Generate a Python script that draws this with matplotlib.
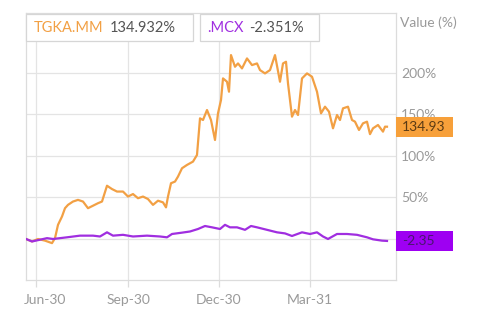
import matplotlib
matplotlib.use('Agg')
import matplotlib.pyplot as plt
import matplotlib.transforms as mtransforms
from matplotlib.patches import Rectangle
import pandas as pd

plt.rcParams['font.family'] = ['Lato', 'DejaVu Sans']

base_date = pd.Timestamp('2020-06-30')

# day offsets from 2020-06-30 and % change values
tgka_days = [-10, -4, 2, 9, 16, 19, 22, 26, 29, 32, 37, 42, 47, 52, 57, 62, 66, 71, 76, 81,
             87, 92, 97, 102, 107, 112, 117, 122, 127, 130, 132, 135, 139, 142, 146, 151, 157,
             161, 164, 167, 171, 175, 179, 182, 185, 187, 191, 193, 195, 199, 202, 206, 211,
             216, 221, 224, 229, 234, 239, 244, 247, 250, 252, 256, 259, 262, 266, 271, 276,
             281, 285, 289, 293, 297, 301, 304, 307, 312, 316, 319, 323, 327, 331, 334, 337,
             342, 347, 349, 351]
tgka_vals = [0, -3, 0, -2, -5, 1, 17, 27, 37, 41, 45, 47, 45, 37, 40, 43, 45, 64, 60, 57,
             57, 51, 54, 49, 51, 48, 41, 46, 44, 38, 51, 67, 69, 75, 85, 89, 93,
             101, 145, 143, 155, 143, 119, 151, 167, 193, 189, 177, 221, 207, 211, 205, 217,
             209, 211, 203, 199, 203, 221, 189, 211, 213, 187, 147, 155, 149, 193, 199, 195,
             177, 151, 159, 153, 133, 149, 143, 157, 159, 143, 141, 131, 139, 141, 126, 133,
             137, 129, 135, 134.93]

mcx_days = [-10, -4, 11, 17, 31, 44, 57, 64, 71, 77, 87, 97, 111, 124, 131, 136, 146, 154,
            162, 169, 176, 184, 189, 194, 201, 209, 215, 221, 231, 241, 249, 256, 266, 274,
            281, 287, 292, 301, 311, 321, 331, 337, 346, 351]
mcx_vals = [0, -3, 1, 0, 2, 4, 4, 3, 8, 4, 5, 3, 4, 3, 2, 6, 7.6, 9,
            12, 15.6, 14, 12, 17, 14, 14, 11, 15.6, 14, 11, 8, 6.7, 3.6, 8, 6,
            8, 3, 0, 6, 6, 5, 2, -0.4, -2, -2.35]

tick_dates = ['2020-06-30', '2020-09-30', '2020-12-30', '2021-03-31']
tick_labels = ['Jun-30', 'Sep-30', 'Dec-30', 'Mar-31']
y_ticks = [0, 50, 100, 150, 200]
y_labels = ['', '50%', '100%', '150%', '200%']  # 0% is hidden behind the MCX value box

tgka_name, tgka_total, tgka_last = 'TGKA.MM', '134.932%', '134.93'
mcx_name, mcx_total, mcx_last = '.MCX', '-2.351%', '-2.35'

ORANGE = '#F2A044'
ORANGE_BOX = '#F7A03A'
PURPLE = '#A02EE0'
PURPLE_BOX = '#9E00F2'
GRID = '#e4e4e4'
TXT = '#9a9a9a'

W, H = 480, 317
fig = plt.figure(figsize=(W / 100, H / 100), dpi=100)
ax = fig.add_axes([26 / W, 1 - 280 / H, 370 / W, 267 / H])

tg_dates = [base_date + pd.Timedelta(days=d) for d in tgka_days]
mc_dates = [base_date + pd.Timedelta(days=d) for d in mcx_days]

ax.plot(tg_dates, tgka_vals, color=ORANGE, lw=1.6, zorder=3)
ax.plot(mc_dates, mcx_vals, color=PURPLE, lw=1.6, zorder=3)

ax.set_xlim(base_date - pd.Timedelta(days=10), base_date + pd.Timedelta(days=360))
ax.set_ylim(-49.3, 271.6)

ax.set_xticks([pd.Timestamp(d) for d in tick_dates])
ax.set_xticklabels(tick_labels)
ax.set_yticks(y_ticks)
ax.set_yticklabels(y_labels)
ax.yaxis.tick_right()

ax.grid(True, color=GRID, lw=0.9)
ax.set_axisbelow(True)
for s in ax.spines.values():
    s.set_color('#dcdcdc')
    s.set_linewidth(0.9)

ax.tick_params(axis='y', length=0, pad=3.5, labelsize=10, labelcolor=TXT)
ax.tick_params(axis='x', length=5, width=0.9, color='#dcdcdc', pad=5,
               labelsize=10, labelcolor=TXT)

# first x label is kept inside the frame
lab0 = ax.get_xticklabels()[0]
lab0.set_horizontalalignment('left')
lab0.set_transform(lab0.get_transform() +
                   mtransforms.ScaledTranslation(-12 / 100, 0, fig.dpi_scale_trans))


def fx(px):
    return px / W


def fy(py):
    return 1 - py / H


# legend boxes
for (x0, x1) in [(26, 193), (200, 319)]:
    fig.patches.append(Rectangle((fx(x0), fy(41)), fx(x1) - fx(x0), fy(14) - fy(41),
                                 transform=fig.transFigure, facecolor='white',
                                 edgecolor='#d6d6d6', lw=0.9, zorder=5))
fig.text(fx(34), fy(28), tgka_name, color=ORANGE, fontsize=10.5, va='center', zorder=6)
fig.text(fx(110), fy(28), tgka_total, color='#555555', fontsize=10.5, va='center', zorder=6)
fig.text(fx(207), fy(28), mcx_name, color=PURPLE, fontsize=10.5, va='center', zorder=6)
fig.text(fx(249), fy(28), mcx_total, color='#555555', fontsize=10.5, va='center', zorder=6)

fig.text(fx(400), fy(23), 'Value (%)', color=TXT, fontsize=10, va='center')

# last value boxes on the right axis
blend = mtransforms.blended_transform_factory(ax.transAxes, ax.transData)
for val, txt, fc, tc in [(tgka_vals[-1], tgka_last, ORANGE_BOX, '#5a3a14'),
                         (mcx_vals[-1], mcx_last, PURPLE_BOX, '#4a1670')]:
    px, py = blend.transform((1.0, val))
    fig.patches.append(Rectangle((px, py - 10), 57, 20, transform=None,
                                 facecolor=fc, edgecolor='none', zorder=5))
    fig.text((px + 6) / W, py / H, txt, color=tc, fontsize=10, va='center', zorder=6)

fig.savefig('out.png', dpi=100)
